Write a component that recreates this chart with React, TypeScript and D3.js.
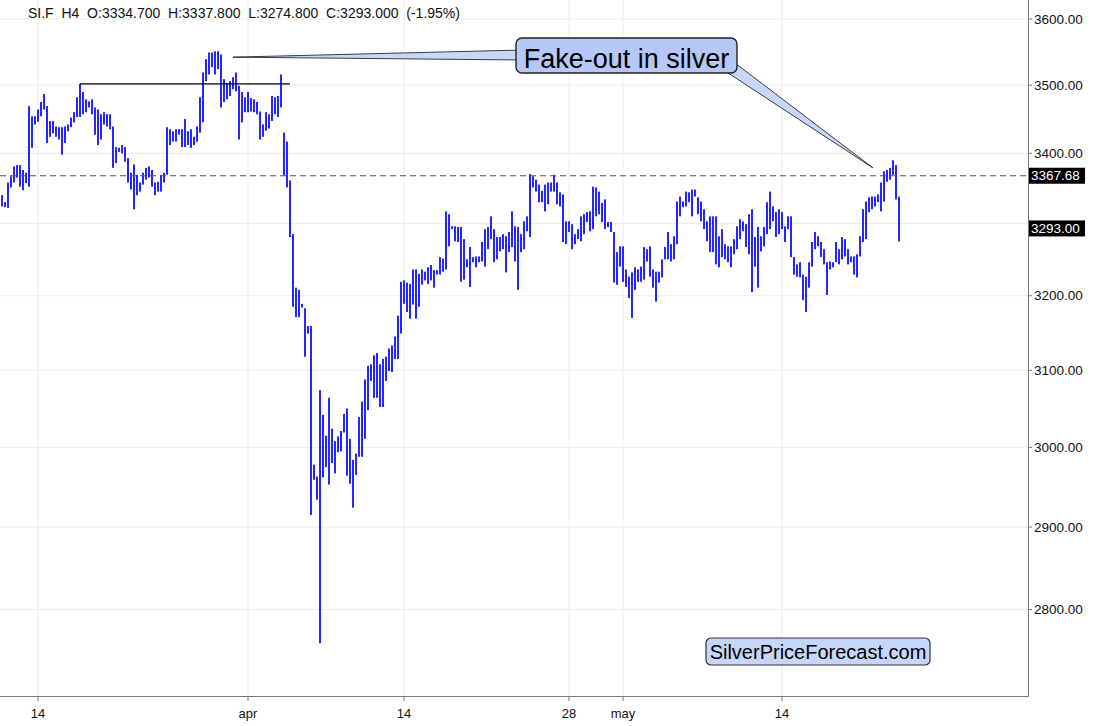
import React from 'react';
import * as d3 from 'd3';

// H4 bars: highs and lows (one entry per bar slot)
const highs: number[] = [
  3340,3330,3358,3367,3381,3383,3383,3376,3372,3469,3454,3454,3464,3475,3487,3469,3447,3447,3439,3438,
  3438,3439,3442,3452,3460,3482,3502,3490,3479,3476,3479,3467,3464,3457,3460,3457,3457,3439,3409,3408,
  3412,3409,3393,3372,3384,3369,3358,3372,3379,3381,3376,3358,3359,3369,3372,3438,3435,3432,3435,3435,
  3435,3450,3432,3435,3424,3439,3482,3519,3539,3549,3549,3551,3551,3546,3509,3503,3506,3512,3519,3499,
  3490,3482,3490,3481,3479,3475,3461,3442,3460,3457,3484,3482,3484,3516,3430,3417,3361,3285,3211,3208,
  3189,3183,3159,3159,2978,2963,3074,3042,3015,3064,3024,3008,3014,3021,3043,3050,3011,2984,2992,3039,
  3059,3088,3106,3108,3120,3123,3108,3115,3118,3129,3133,3145,3173,3219,3221,3218,3216,3236,3236,3230,
  3236,3233,3239,3242,3235,3235,3253,3251,3317,3313,3296,3296,3295,3295,3278,3250,3267,3253,3254,3254,
  3274,3292,3295,3310,3292,3281,3281,3285,3282,3288,3317,3296,3295,3285,3303,3310,3370,3367,3362,3355,
  3346,3355,3358,3358,3369,3358,3344,3341,3303,3303,3299,3285,3292,3310,3313,3316,3317,3352,3351,3345,
  3329,3334,3302,3302,3288,3260,3268,3268,3236,3226,3232,3239,3236,3240,3267,3264,3268,3236,3233,3233,
  3250,3267,3288,3271,3282,3331,3338,3331,3345,3344,3348,3348,3337,3331,3320,3303,3310,3310,3310,3282,
  3292,3271,3268,3268,3278,3296,3306,3303,3299,3313,3320,3281,3295,3282,3295,3330,3345,3324,3316,3320,
  3316,3296,3310,3310,3253,3243,3246,3229,3226,3246,3274,3288,3282,3274,3264,3246,3247,3246,3274,3264,
  3281,3278,3264,3254,3254,3257,3282,3320,3331,3337,3338,3338,3341,3358,3374,3376,3379,3390,3383,3337.8,
];
const lows: number[] = [
  3324,3323,3322,3351,3358,3365,3352,3347,3357,3352,3408,3442,3446,3454,3464,3415,3424,3429,3424,3420,
  3398,3415,3432,3438,3445,3453,3453,3457,3460,3467,3457,3427,3412,3420,3442,3439,3435,3379,3386,3402,
  3400,3388,3358,3348,3320,3340,3345,3355,3362,3365,3352,3340,3345,3345,3358,3369,3412,3417,3417,3427,
  3409,3409,3412,3408,3412,3417,3430,3445,3506,3516,3527,3516,3524,3467,3475,3479,3484,3494,3491,3420,
  3445,3460,3460,3461,3460,3457,3420,3424,3433,3436,3447,3457,3453,3467,3368,3351,3281,3185,3171,3171,
  3184,3118,3149,2915,2959,2934,2760,2962,2975,2953,2980,2967,2994,2995,3019,2964,2954,2924,2965,2988,
  2988,3011,3048,3086,3064,3064,3052,3052,3086,3099,3098,3115,3115,3149,3189,3178,3169,3188,3169,3185,
  3215,3221,3216,3221,3211,3229,3229,3233,3236,3268,3292,3275,3274,3219,3222,3239,3212,3246,3239,3246,
  3247,3240,3264,3278,3246,3250,3261,3264,3232,3260,3267,3247,3208,3260,3264,3289,3281,3351,3345,3330,
  3330,3317,3327,3345,3345,3327,3324,3274,3271,3288,3264,3271,3278,3275,3285,3302,3289,3292,3310,3313,
  3302,3292,3295,3288,3218,3215,3240,3219,3212,3197,3170,3208,3219,3219,3222,3247,3226,3211,3192,3218,
  3225,3250,3250,3247,3250,3271,3310,3323,3324,3330,3310,3338,3313,3303,3292,3275,3260,3260,3243,3239,
  3253,3250,3246,3239,3257,3264,3278,3289,3267,3257,3205,3240,3211,3261,3268,3285,3292,3303,3281,3285,
  3292,3274,3292,3253,3229,3226,3225,3194,3178,3211,3240,3264,3268,3253,3243,3201,3236,3239,3246,3243,
  3250,3254,3243,3246,3229,3225,3254,3274,3278,3316,3320,3324,3330,3317,3331,3359,3362,3369,3334,3274.8,
];

const priceTicks: number[] = [2800, 2900, 3000, 3100, 3200, 3300, 3400, 3500, 3600];
const dateTickLabels: string[] = ['14', 'apr', '14', '28', 'may', '14'];
const dateTickBars: number[] = [12, 82, 134, 189, 207, 260];

const headerText = 'SI.F  H4  O:3334.700  H:3337.800  L:3274.800  C:3293.000  (-1.95%)';
const resistanceLevel = 3367.68;
const lastClose = 3293.0;
const fakeoutLevel = 3502;
const fakeoutFromBar = 26;
const fakeoutToBar = 96;
const calloutText = 'Fake-out in silver';
const calloutTargets = [
  { bar: 77, price: 3542 },
  { bar: 290.3, price: 3379 },
];
const brandText = 'SilverPriceForecast.com';

const W = 1113;
const H = 726;
const PLOT_R = 1028;
const PLOT_B = 696;
const FONT = 'Liberation Sans, Arial, Helvetica, sans-serif';

export default function App() {
  const x = d3.scaleLinear().domain([-2 / 3, 342]).range([0, PLOT_R]);
  const y = d3.scaleLog().domain([2800, 3600]).range([609.5, 19]);

  const t1 = calloutTargets[0];
  const t2 = calloutTargets[1];
  const tip1: [number, number] = [x(t1.bar), y(t1.price)];
  const tip2: [number, number] = [x(t2.bar), y(t2.price)];

  const box = { x: 516, y: 38, w: 221, h: 35 };
  const wedge1 = [tip1, [box.x + 6, box.y + 12], [box.x + 6, box.y + 22]];
  const wedge2 = [tip2, [box.x + box.w - 12, box.y + box.h - 2], [box.x + box.w - 2, box.y + box.h - 10]];
  const poly = (pts: number[][]) => pts.map((p) => p.join(',')).join(' ');

  const valueBoxes = [resistanceLevel, lastClose];
  const visibleTicks = priceTicks.filter((p) => valueBoxes.every((v) => Math.abs(y(p) - y(v)) > 12));

  return (
    <svg
      width={W}
      height={H}
      style={{ position: 'absolute', left: 0, top: 0, background: '#fff' }}
      fontFamily={FONT}
    >
      <rect x={0} y={0} width={W} height={H} fill="#ffffff" />
      {/* grid */}
      {priceTicks.map((p) => (
        <line key={'hg' + p} x1={0} x2={PLOT_R} y1={y(p)} y2={y(p)} stroke="#ececec" strokeWidth={1} />
      ))}
      {dateTickBars.map((b, i) => (
        <line key={'vg' + i} x1={x(b)} x2={x(b)} y1={0} y2={PLOT_B} stroke="#ececec" strokeWidth={1} />
      ))}

      {/* bars */}
      {highs.map((h, i) => {
        const top = y(h);
        const bot = y(lows[i]);
        return (
          <rect
            key={'b' + i}
            x={x(i) - 0.85}
            y={top}
            width={1.7}
            height={Math.max(1, bot - top)}
            fill="#0000ff"
          />
        );
      })}

      {/* resistance dashed line */}
      <line
        x1={0}
        x2={PLOT_R}
        y1={y(resistanceLevel)}
        y2={y(resistanceLevel)}
        stroke="#555"
        strokeWidth={1.2}
        strokeDasharray="6,4"
      />

      {/* 3500 line */}
      <line
        x1={x(fakeoutFromBar)}
        x2={x(fakeoutToBar)}
        y1={y(fakeoutLevel)}
        y2={y(fakeoutLevel)}
        stroke="#000"
        strokeWidth={1.2}
      />

      {/* callout */}
      <polygon points={poly(wedge1)} fill="#c8d7f8" stroke="#111" strokeWidth={0.8} />
      <polygon points={poly(wedge2)} fill="#c8d7f8" stroke="#111" strokeWidth={0.8} />
      <rect x={box.x} y={box.y} width={box.w} height={box.h} rx={6} fill="#b5c8f8" stroke="#222" strokeWidth={1.4} />
      <text x={box.x + box.w / 2} y={box.y + 30} textAnchor="middle" fontSize={27} fill="#000">
        {calloutText}
      </text>

      {/* brand box */}
      <rect x={706} y={638} width={224} height={27} rx={5} fill="#c6d6fa" stroke="#333" strokeWidth={1.2} />
      <text x={818} y={659} textAnchor="middle" fontSize={20} fill="#000">
        {brandText}
      </text>

      {/* axes */}
      <line x1={PLOT_R + 0.5} x2={PLOT_R + 0.5} y1={0} y2={PLOT_B + 0.5} stroke="#777" strokeWidth={1} />
      <line x1={0} x2={PLOT_R + 0.5} y1={PLOT_B + 0.5} y2={PLOT_B + 0.5} stroke="#777" strokeWidth={1} />
      {visibleTicks.map((p) => (
        <g key={'yt' + p}>
          <line x1={PLOT_R} x2={PLOT_R + 4} y1={y(p)} y2={y(p)} stroke="#777" />
          <text x={PLOT_R + 6} y={y(p)} dy="0.35em" fontSize={13.5} fill="#111">
            {d3.format('.2f')(p)}
          </text>
        </g>
      ))}
      {dateTickBars.map((b, i) => (
        <g key={'xt' + i}>
          <line x1={x(b)} x2={x(b)} y1={PLOT_B} y2={PLOT_B + 5} stroke="#777" />
          <text x={x(b)} y={718} textAnchor="middle" fontSize={13} fill="#111">
            {dateTickLabels[i]}
          </text>
        </g>
      ))}

      {/* value boxes */}
      {valueBoxes.map((v) => (
        <g key={'vb' + v}>
          <rect x={PLOT_R + 1} y={y(v) - 8} width={56} height={16} fill="#000" />
          <text x={PLOT_R + 3} y={y(v)} dy="0.35em" fontSize={13.5} fill="#fff">
            {d3.format('.2f')(v)}
          </text>
        </g>
      ))}

      {/* header */}
      <text x={28} y={17.5} fontSize={14} fill="#111" style={{ whiteSpace: 'pre' }} xmlSpace="preserve">
        {headerText}
      </text>
    </svg>
  );
}
